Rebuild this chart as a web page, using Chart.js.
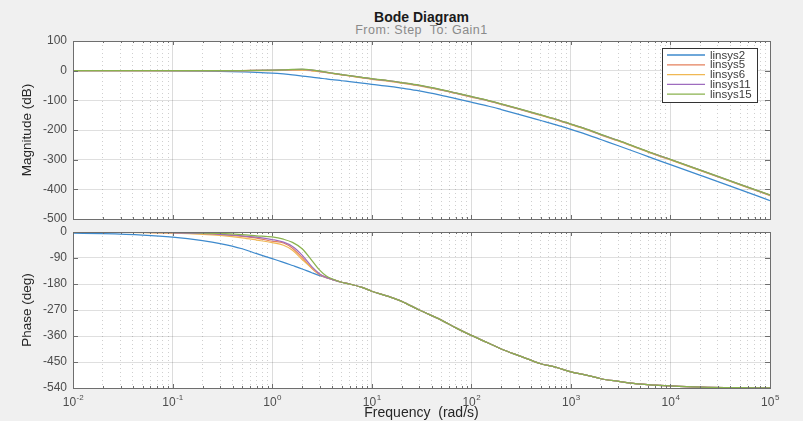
<!DOCTYPE html>
<html>
<head>
<meta charset="utf-8">
<script src="https://cdn.jsdelivr.net/npm/chart.js@4.4.1/dist/chart.umd.min.js"></script>
<style>
  html, body { margin: 0; padding: 0; background: #f0f0f0; }
  #wrap { position: relative; width: 803px; height: 421px; overflow: hidden; font-family: "Liberation Sans", Arial, sans-serif; }
  .ttl { position: absolute; left: 73px; width: 697px; text-align: center; white-space: pre; line-height: 1; }
  #title { top: 10px; font-size: 14px; font-weight: bold; color: #1a1a1a; }
  #sub { top: 24px; font-size: 12.5px; letter-spacing: 0.5px; color: #8a8a8a; }
  canvas { position: absolute; left: 0; }
  #magChart { top: 0; }
  #phaseChart { top: 226px; }
</style>
</head>
<body>
<div id="wrap">
  <div id="title" class="ttl">Bode Diagram</div>
  <div id="sub" class="ttl">From: Step  To: Gain1</div>
  <canvas id="magChart" width="803" height="226"></canvas>
  <canvas id="phaseChart" width="803" height="195"></canvas>
</div>
<script>
// frequency samples (rad/s)
const freq = [0.01, 0.02, 0.05, 0.1, 0.2, 0.3, 0.5, 0.7, 1, 1.3, 1.6, 2, 2.5, 3, 3.5, 4, 5, 6, 8, 10,
  15, 20, 30, 50, 70, 100, 150, 200, 300, 500, 700, 1000, 1500, 2000, 3000, 5000, 7000, 10000, 20000, 50000, 100000];

const seriesNames = ["linsys2", "linsys5", "linsys6", "linsys11", "linsys15"];
const seriesColors = ["rgb(62,138,205)", "rgb(228,128,92)", "rgb(240,184,84)", "rgb(158,108,190)", "rgb(138,178,78)"];

// magnitude (dB)
const mag2 = [0, 0, -0.2, -0.5, -1.3, -2.2, -4, -5.5, -8, -11, -14, -18, -22, -25, -28, -30, -34, -37, -42, -46,
  -53, -59, -68, -83, -94, -106, -120, -131, -147, -168, -182, -198, -217, -232, -253, -280, -298, -317, -353, -401, -438];
const mag5 = [0, 0, 0, 0, 0.1, 0.2, 0.4, 0.7, 1, 2, 3, 3, 0.5, -3, -6, -9, -14, -17.5, -23.5, -28,
  -35, -41, -50, -65, -76, -88, -102, -113, -129, -150, -164, -181, -200, -216, -236, -264, -282, -300, -336, -384, -420];
const mag6 = [0, 0, 0, 0, 0.1, 0.1, 0.2, 0.3, 0.5, 1, 1.5, 1.5, -0.5, -3.5, -6.5, -9.5, -14, -18, -24, -29,
  -36, -42, -51, -66, -77, -89, -103, -114, -130, -151, -165, -182, -201, -217, -237, -265, -283, -301, -337, -385, -421];
const mag11 = [0, 0, 0, 0, 0.1, 0.2, 0.5, 0.8, 1.5, 2.5, 3.5, 4, 1.5, -2, -5.5, -8.5, -13.5, -17, -23, -27.5,
  -34.5, -40.5, -49.5, -64.5, -75.5, -87.5, -101.5, -112.5, -128.5, -149.5, -163.5, -180.5, -199.5, -215.5, -235.5, -263.5, -281.5, -299.5, -335.5, -383.5, -419.5];
const mag15 = [0, 0, 0, 0, 0.1, 0.2, 0.5, 1, 2, 3, 4.5, 5.5, 3, -1, -5, -8, -13, -16.5, -22.5, -27,
  -34, -40, -49, -64, -75, -87, -101, -112, -128, -149, -163, -180, -199, -215, -235, -263, -281, -299, -335, -383, -419];

// phase (deg)
const ph2 = [-4, -6, -11, -18, -30, -40, -58, -75, -92, -105, -116, -128, -141, -151, -158, -164, -174, -180, -192, -205,
  -224, -240, -270, -305, -332, -358, -385, -405, -428, -456, -468, -484, -497, -508, -517, -527, -530, -533, -537, -539, -539.5];
const ph5 = [0, -0.5, -1.5, -3, -6, -9, -15, -21, -32, -38, -56, -88, -126, -148, -158, -164, -174, -180, -192, -205,
  -224, -240, -270, -305, -332, -358, -385, -405, -428, -456, -468, -484, -497, -508, -517, -527, -530, -533, -537, -539, -539.5];
const ph6 = [0, -0.5, -2, -4, -8, -12, -20, -28, -37, -46, -63, -95, -125, -146, -157, -163.5, -174, -180, -192, -205,
  -224, -240, -270, -305, -332, -358, -385, -405, -428, -456, -468, -484, -497, -508, -517, -527, -530, -533, -537, -539, -539.5];
const ph11 = [0, -0.3, -1.2, -2.5, -5, -8, -13, -18, -26, -35, -50, -80, -120, -145, -157, -164, -174, -180, -192, -205,
  -224, -240, -270, -305, -332, -358, -385, -405, -428, -456, -468, -484, -497, -508, -517, -527, -530, -533, -537, -539, -539.5];
const ph15 = [0, -0.2, -0.8, -1.5, -3.5, -5, -9, -13, -17, -25, -36, -58, -98, -132, -152, -162, -174, -180, -192, -205,
  -224, -240, -270, -305, -332, -358, -385, -405, -428, -456, -468, -484, -497, -508, -517, -527, -530, -533, -537, -539, -539.5];

const magSeries = [mag2, mag5, mag6, mag11, mag15];
const phaseSeries = [ph2, ph5, ph6, ph11, ph15];

const magTicks = [100, 0, -100, -200, -300, -400, -500];
const phaseTicks = [0, -90, -180, -270, -360, -450, -540];
const decades = [-2, -1, 0, 1, 2, 3, 4, 5];

// grid positions for log axis: 1..9 x 10^n
let xGrid = [];
for (let n = -2; n < 5; n++) {
  for (let k = 1; k < 10; k++) xGrid.push(k * Math.pow(10, n));
}
xGrid.push(1e5);

const FONT = '"Liberation Sans", Arial, sans-serif';
const isMajor = (v) => Math.abs(Math.log10(v) - Math.round(Math.log10(v))) < 1e-9;

function buildDatasets(seriesList) {
  return seriesList.map((vals, i) => ({
    label: seriesNames[i],
    data: freq.map((f, j) => ({ x: f, y: vals[j] })),
    borderColor: seriesColors[i],
    borderWidth: 1.25,
    pointRadius: 0,
    cubicInterpolationMode: "monotone",
    order: seriesList.length - i, // last series drawn on top
  }));
}

// white plot box, frame, inside ticks
const panelPlugin = {
  id: "panel",
  beforeDraw(chart) {
    const { ctx, chartArea: a } = chart;
    ctx.save();
    ctx.fillStyle = "#ffffff";
    ctx.fillRect(a.left, a.top, a.right - a.left, a.bottom - a.top);
    ctx.restore();
  },
  afterDraw(chart) {
    const { ctx, chartArea: a } = chart;
    const xs = chart.scales.x, ys = chart.scales.y;
    ctx.save();
    ctx.strokeStyle = "#6e6e6e";
    ctx.lineWidth = 1;
    ctx.beginPath();
    xGrid.forEach((v) => {
      const px = Math.round(xs.getPixelForValue(v)) + 0.5;
      const len = isMajor(v) ? 4 : 2;
      ctx.moveTo(px, a.bottom); ctx.lineTo(px, a.bottom - len);
      ctx.moveTo(px, a.top); ctx.lineTo(px, a.top + len);
    });
    ys.ticks.forEach((t) => {
      const py = Math.round(ys.getPixelForValue(t.value)) + 0.5;
      ctx.moveTo(a.left, py); ctx.lineTo(a.left + 5, py);
      ctx.moveTo(a.right, py); ctx.lineTo(a.right - 5, py);
    });
    ctx.stroke();
    ctx.strokeRect(Math.round(a.left) + 0.5, Math.round(a.top) + 0.5, Math.round(a.right - a.left), Math.round(a.bottom - a.top));
    ctx.restore();
  },
};

// legend box inside the magnitude plot
const legendPlugin = {
  id: "boxLegend",
  afterDraw(chart) {
    const { ctx } = chart;
    const x0 = 662, y0 = 48, w = 95, h = 54;
    ctx.save();
    ctx.fillStyle = "#ffffff";
    ctx.fillRect(x0, y0, w, h);
    ctx.strokeStyle = "#333333";
    ctx.lineWidth = 1;
    ctx.strokeRect(x0 + 0.5, y0 + 0.5, w, h);
    ctx.font = "11.5px " + FONT;
    ctx.textBaseline = "middle";
    chart.data.datasets.forEach((ds, i) => {
      const y = y0 + 7 + i * 9.8;
      ctx.strokeStyle = ds.borderColor;
      ctx.lineWidth = 1.3;
      ctx.beginPath();
      ctx.moveTo(x0 + 5, y);
      ctx.lineTo(x0 + 43, y);
      ctx.stroke();
      ctx.fillStyle = "#3a3a3a";
      ctx.fillText(ds.label, x0 + 48, y + 0.5);
    });
    ctx.restore();
  },
};

// 10^n labels and x title under the phase plot
const freqLabelPlugin = {
  id: "freqLabels",
  afterDraw(chart) {
    const { ctx, chartArea: a } = chart;
    const xs = chart.scales.x;
    ctx.save();
    ctx.fillStyle = "#4d4d4d";
    ctx.textBaseline = "alphabetic";
    decades.forEach((n) => {
      const px = xs.getPixelForValue(Math.pow(10, n));
      ctx.font = "12px " + FONT;
      const w10 = ctx.measureText("10").width;
      ctx.font = "8px " + FONT;
      const expText = String(n);
      const wExp = ctx.measureText(expText).width;
      const left = px - (w10 + wExp) / 2;
      ctx.font = "12px " + FONT;
      ctx.fillText("10", left, a.bottom + 18);
      ctx.font = "8px " + FONT;
      ctx.fillText(expText, left + w10 + 0.5, a.bottom + 12);
    });
    ctx.font = "14px " + FONT;
    ctx.fillStyle = "#262626";
    ctx.textAlign = "center";
    ctx.fillText("Frequency  (rad/s)", (a.left + a.right) / 2, a.bottom + 29);
    ctx.restore();
  },
};

function makePanel(canvasId, seriesList, yMin, yMax, yStep, yTitle, padding, xHeight, extraPlugins) {
  const ctx = document.getElementById(canvasId).getContext("2d");
  return new Chart(ctx, {
    type: "line",
    data: { datasets: buildDatasets(seriesList) },
    options: {
      responsive: false,
      animation: false,
      events: [],
      layout: { padding: padding },
      plugins: { legend: { display: false }, tooltip: { enabled: false } },
      scales: {
        x: {
          type: "logarithmic",
          min: 0.01,
          max: 1e5,
          afterBuildTicks: (scale) => { scale.ticks = xGrid.map((v) => ({ value: v })); },
          afterFit: (scale) => {
            scale.height = xHeight;
            scale.paddingLeft = 0; scale.paddingRight = 0;
          },
          ticks: { display: false },
          border: {
            display: false,
            dash: (c) => (c.tick && !isMajor(c.tick.value) ? [1, 3] : []),
          },
          grid: {
            drawTicks: false,
            color: (c) => (c.tick && isMajor(c.tick.value) ? "rgba(38,38,38,0.16)" : "rgba(38,38,38,0.22)"),
            lineWidth: 1,
          },
        },
        y: {
          min: yMin,
          max: yMax,
          afterBuildTicks: (scale) => {
            let t = [];
            for (let v = yMin; v <= yMax; v += yStep) t.push({ value: v });
            scale.ticks = t;
          },
          afterFit: (scale) => {
            scale.width = 73;
            scale.paddingTop = 0; scale.paddingBottom = 0; // keep plot box where the padding puts it
          },
          ticks: { padding: 6, color: "#4d4d4d", font: { family: FONT, size: 12 } },
          border: { display: false },
          grid: { drawTicks: false, color: "rgba(38,38,38,0.15)" },
          title: {
            display: true,
            text: yTitle,
            color: "#262626",
            font: { family: FONT, size: 13.5 },
            padding: { top: 19, bottom: 0 },
          },
        },
      },
    },
    plugins: [panelPlugin].concat(extraPlugins),
  });
}

makePanel("magChart", magSeries, magTicks[magTicks.length - 1], magTicks[0], 100, "Magnitude (dB)",
  { top: 41, right: 33, bottom: 7, left: 0 }, 0, [legendPlugin]);
makePanel("phaseChart", phaseSeries, phaseTicks[phaseTicks.length - 1], phaseTicks[0], 90, "Phase (deg)",
  { top: 6, right: 33, bottom: 0, left: 0 }, 33, [freqLabelPlugin]);
</script>
</body>
</html>
